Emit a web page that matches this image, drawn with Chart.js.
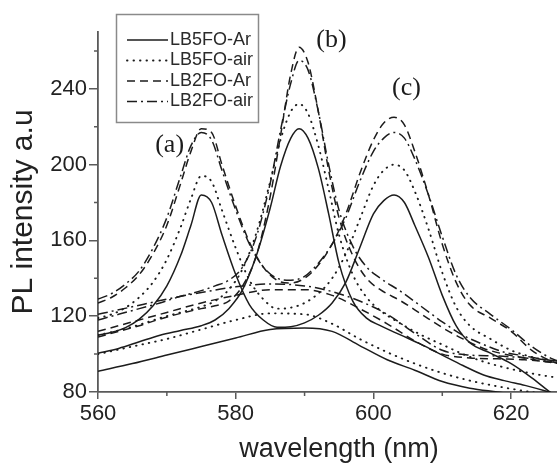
<!DOCTYPE html>
<html>
<head>
<meta charset="utf-8">
<script src="https://cdn.jsdelivr.net/npm/chart.js@4.4.1/dist/chart.umd.min.js"></script>
<style>
  html, body { margin: 0; padding: 0; background: #fff; overflow: hidden; }
  #wrap { width: 557px; height: 468px; overflow: hidden; }
</style>
</head>
<body>
<div id="wrap"><canvas id="chart" width="580" height="468"></canvas></div>
<script>
// wavelength points (nm) for the three families of curves
const waveAC = [560, 562, 564, 566, 568, 570, 572, 573.5, 575, 576.5, 578, 580, 582, 584, 586, 588, 590, 592, 594, 596, 598, 600, 601.5, 603, 604.5, 606, 608, 610, 612, 614, 617, 620, 623, 626, 629];
const waveB = [560, 563, 566, 569, 572, 575, 577, 579, 581, 583, 585, 586.5, 588, 589.2, 590.5, 592, 593.5, 595, 597, 599, 601, 604, 607, 610, 613, 616, 619, 622, 625, 629];
const waveBase = [560, 565, 570, 575, 580, 585, 590, 594, 598, 602, 606, 610, 614, 618, 622, 629];

// curves with peaks (a) and (c)
const acLB5FOAr  = [110, 111.5, 114, 118.5, 125.5, 136, 152, 168, 184, 180, 163, 142, 126, 118, 114.2, 114.5, 116.5, 120.5, 127, 138, 156, 174, 181, 184, 180, 168, 151, 131, 115, 106, 100.5, 95, 87.5, 79, 72];
const acLB5FOair = [119, 121, 124.5, 130, 138, 150, 167, 182, 194, 191, 176, 156, 139, 129, 124, 124.5, 127, 132, 140, 153, 171, 189, 197, 200, 197, 186, 166, 143, 125, 115, 108, 102, 98.5, 96, 93.5];
const acLB2FOAr  = [127, 130, 135, 142, 153, 168, 190, 207, 219, 217, 200, 178, 159, 146, 139, 137.5, 140, 147, 158, 174, 195, 213, 222, 225, 221, 207, 184, 158, 138, 126, 119, 112, 102, 96, 93];
const acLB2FOair = [129, 132, 137, 144, 156, 172, 194, 210, 217, 213, 197, 176, 158, 146, 140, 139, 141, 148, 158, 172, 191, 207, 214, 217, 214, 203, 184, 162, 142, 130, 121, 113, 104, 97.5, 94.5];

// curves with peak (b)
const bLB5FOAr  = [100.5, 103, 106.5, 110, 112.5, 115, 118, 124, 134, 152, 177, 199, 214, 219, 214, 198, 174, 148, 128, 119, 115, 110, 105, 99.5, 94, 89, 86, 83.5, 80.5, 76];
const bLB5FOair = [110, 112.5, 115.5, 119, 122, 125, 128, 134, 145, 164, 191, 213, 228, 232, 227, 210, 187, 163, 142, 130, 123, 116, 110, 105, 100, 96, 93, 90.5, 88.5, 86.5];
const bLB2FOAr  = [109, 112, 115, 118.5, 121.5, 124, 125.5, 128, 136, 152, 183, 215, 248, 262, 254, 228, 197, 172, 152, 140, 134, 128, 121, 114, 108, 103, 100, 98, 96, 94.5];
const bLB2FOair = [118, 121, 124, 127, 130.5, 133.5, 136, 139, 146, 162, 190, 218, 243, 255, 250, 228, 200, 176, 157, 146, 140, 133, 125, 117, 110, 105, 101, 99, 97, 95.5];

// broad background curves
const baseLB5FOAr  = [91, 95, 99.5, 104, 108.5, 113, 113.8, 112, 104.5, 97, 91.5, 85.5, 82, 80, 78, 74];
const baseLB5FOair = [100, 104, 108, 113, 118, 121.5, 121, 116, 108, 101, 95, 90, 86, 83, 80.5, 77];
const baseLB2FOAr  = [112, 117, 122, 127, 131, 134, 134, 131, 124, 116, 107, 100, 98, 97.5, 97, 94.5];
const baseLB2FOair = [121, 125, 129, 132.5, 135.5, 137, 136, 133, 128, 121, 111, 102, 99.5, 99, 98, 95.5];

const sampleNames = ['LB5FO-Ar', 'LB5FO-air', 'LB2FO-Ar', 'LB2FO-air'];
const xMajor = [560, 580, 600, 620];
const xMinor = [570, 590, 610, 630];
const yMajor = [80, 120, 160, 200, 240];
const yMinor = [100, 140, 180, 220, 260];
const notes = ['(a)', '(b)', '(c)'];
const noteX = [570.4, 593.9, 604.8];
const noteY = [210.4, 265.8, 240.5];

const ink = '#1c1c1c';
const axisColor = '#5a5a5a';
const dashes = [[], [0.5, 6], [8, 5], [10, 4, 2, 4]];
const caps = ['butt', 'round', 'butt', 'butt'];
const sansFont = '"Liberation Sans", Arial, sans-serif';

function zip(xs, ys) {
    return xs.map(function(x, i) { return {x: x, y: ys[i]}; });
}

let families = [
    [waveAC, [acLB5FOAr, acLB5FOair, acLB2FOAr, acLB2FOair]],
    [waveB, [bLB5FOAr, bLB5FOair, bLB2FOAr, bLB2FOair]],
    [waveBase, [baseLB5FOAr, baseLB5FOair, baseLB2FOAr, baseLB2FOair]]
];
let datasets = [];
families.forEach(function(f) {
    f[1].forEach(function(ys, k) {
        datasets.push({
            label: sampleNames[k],
            data: zip(f[0], ys),
            borderColor: ink,
            borderWidth: k == 1 ? 1.9 : 1.5,
            borderDash: dashes[k],
            borderCapStyle: caps[k],
            pointRadius: 0,
            fill: false,
            cubicInterpolationMode: 'monotone'
        });
    });
});

const extras = {
    id: 'extras',
    afterDraw(chart) {
        const ctx = chart.ctx;
        const xs = chart.scales.x, ys = chart.scales.y;
        ctx.save();
        // minor ticks
        ctx.strokeStyle = axisColor;
        ctx.lineWidth = 1.5;
        ctx.beginPath();
        xMinor.forEach(function(v) {
            let px = xs.getPixelForValue(v);
            ctx.moveTo(px, ys.bottom); ctx.lineTo(px, ys.bottom + 4);
        });
        yMinor.forEach(function(v) {
            let py = ys.getPixelForValue(v);
            ctx.moveTo(xs.left, py); ctx.lineTo(xs.left - 4, py);
        });
        ctx.stroke();
        // peak labels
        ctx.fillStyle = ink;
        ctx.font = '26px "Liberation Serif", "Times New Roman", serif';
        ctx.textAlign = 'center';
        ctx.textBaseline = 'middle';
        notes.forEach(function(t, i) {
            ctx.fillText(t, xs.getPixelForValue(noteX[i]), ys.getPixelForValue(noteY[i]));
        });
        // legend box
        ctx.fillStyle = '#fff';
        ctx.fillRect(116, 14, 142, 108);
        ctx.strokeStyle = '#8a8a8a';
        ctx.lineWidth = 1.5;
        ctx.strokeRect(116.5, 14.5, 142, 108);
        ctx.textAlign = 'left';
        ctx.font = '18px ' + sansFont;
        sampleNames.forEach(function(name, i) {
            let y = 40 + i * 20.5;
            ctx.setLineDash(dashes[i]);
            ctx.lineCap = caps[i];
            ctx.strokeStyle = ink;
            ctx.lineWidth = i == 1 ? 1.9 : 1.5;
            ctx.beginPath(); ctx.moveTo(127, y); ctx.lineTo(168, y); ctx.stroke();
            ctx.setLineDash([]);
            ctx.fillStyle = '#2a2a2a';
            ctx.fillText(name, 170, y);
        });
        ctx.restore();
    }
};

new Chart(document.getElementById('chart').getContext('2d'), {
    type: 'line',
    data: { datasets: datasets },
    options: {
        responsive: false,
        animation: false,
        layout: { padding: { top: 32, right: 0, left: 0, bottom: 0 } },
        plugins: { legend: { display: false }, tooltip: { enabled: false } },
        scales: {
            x: {
                type: 'linear', min: 560, max: 630,
                afterBuildTicks: function(s) { s.ticks = xMajor.map(v => ({value: v})); },
                afterFit: function(s) { s.height = 76; },
                ticks: { color: '#222', padding: 2, font: { size: 22, family: sansFont } },
                grid: { drawOnChartArea: false, tickLength: 7, color: axisColor, lineWidth: 1.5 },
                border: { color: axisColor, width: 1.8 },
                title: { display: true, text: 'wavelength (nm)', color: '#222',
                         font: { size: 27, family: sansFont }, padding: { top: 0, bottom: 2 } }
            },
            y: {
                type: 'linear', min: 80, max: 270,
                afterBuildTicks: function(s) { s.ticks = yMajor.map(v => ({value: v})); },
                afterFit: function(s) { s.width = 98; },
                ticks: { color: '#222', padding: 2, font: { size: 22, family: sansFont } },
                grid: { drawOnChartArea: false, tickLength: 9, color: axisColor, lineWidth: 1.5 },
                border: { color: axisColor, width: 1.8 },
                title: { display: true, text: 'PL intensity a.u', color: '#222',
                         font: { size: 30, family: sansFont }, padding: { top: 6, bottom: 0 } }
            }
        }
    },
    plugins: [extras]
});
</script>
</body>
</html>
